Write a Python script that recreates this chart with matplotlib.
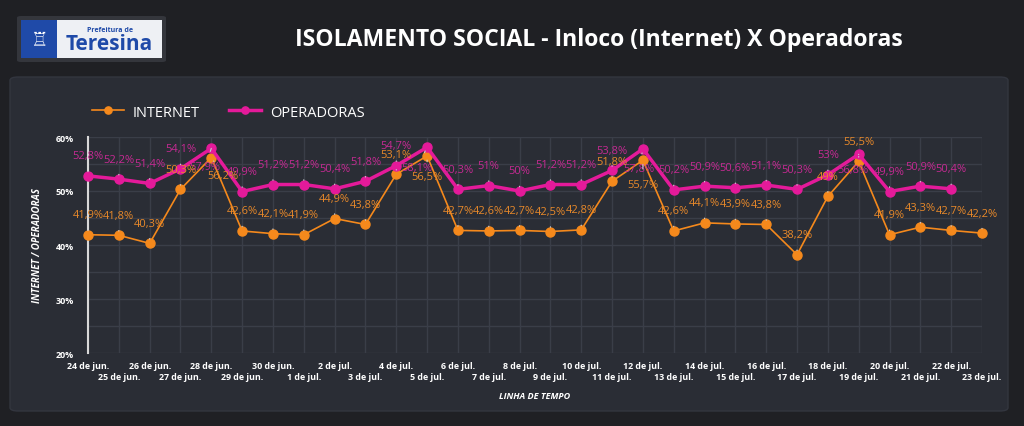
import matplotlib.pyplot as plt
from matplotlib.patches import FancyBboxPatch, Rectangle
import numpy as np

plt.rcParams['font.family'] = ['Open Sans', 'DejaVu Sans']

# data
dias = ['24 de jun.', '25 de jun.', '26 de jun.', '27 de jun.', '28 de jun.', '29 de jun.',
        '30 de jun.', '1 de jul.', '2 de jul.', '3 de jul.', '4 de jul.', '5 de jul.',
        '6 de jul.', '7 de jul.', '8 de jul.', '9 de jul.', '10 de jul.', '11 de jul.',
        '12 de jul.', '13 de jul.', '14 de jul.', '15 de jul.', '16 de jul.', '17 de jul.',
        '18 de jul.', '19 de jul.', '20 de jul.', '21 de jul.', '22 de jul.', '23 de jul.']
internet = [41.9, 41.8, 40.3, 50.3, 56.2, 42.6, 42.1, 41.9, 44.9, 43.8, 53.1, 56.5,
            42.7, 42.6, 42.7, 42.5, 42.8, 51.8, 55.7, 42.6, 44.1, 43.9, 43.8, 38.2,
            49.0, 55.5, 41.9, 43.3, 42.7, 42.2]
operadoras = [52.8, 52.2, 51.4, 54.1, 57.9, 49.9, 51.2, 51.2, 50.4, 51.8, 54.7, 58.1,
              50.3, 51.0, 50.0, 51.2, 51.2, 53.8, 57.8, 50.2, 50.9, 50.6, 51.1, 50.3,
              53.0, 56.8, 49.9, 50.9, 50.4]

# label offsets in pixels (default above the point)
off_int = {4: (12, -18), 11: (0, -21), 18: (0, -24)}
off_op = {4: (-6, -18), 11: (-10, -20), 18: (-4, -20), 25: (-6, -15)}

BG = '#1f2024'
PANEL = '#2a2d35'
GRID = '#3a3e48'
ORANGE = '#f5891c'
PINK = '#e41a9a'
ORANGE_TXT = '#e8892a'
PINK_TXT = '#c62a93'


def fmt(v):
    s = ('%.1f' % v).replace('.', ',')
    if s.endswith(',0'):
        s = s[:-2]
    return s + '%'


fig = plt.figure(figsize=(10.24, 4.27), dpi=100, facecolor=BG)

# panel behind chart
fig.patches.append(FancyBboxPatch((10 / 1024, 1 - 412 / 427), 998 / 1024, 334 / 427,
                                  boxstyle='round,pad=0,rounding_size=0.008',
                                  transform=fig.transFigure, facecolor=PANEL,
                                  edgecolor='#33363f', lw=1, zorder=0))

# logo
fig.patches.append(FancyBboxPatch((17 / 1024, 1 - 63 / 427), 149 / 1024, 46 / 427,
                                  boxstyle='round,pad=0,rounding_size=0.004',
                                  transform=fig.transFigure, facecolor='#34363c',
                                  edgecolor='none', zorder=1))
fig.patches.append(Rectangle((21 / 1024, 1 - 59 / 427), 141 / 1024, 38 / 427,
                             transform=fig.transFigure, facecolor='#eef0f4',
                             edgecolor='none', zorder=2))
fig.patches.append(Rectangle((21 / 1024, 1 - 59 / 427), 36 / 1024, 38 / 427,
                             transform=fig.transFigure, facecolor='#1f4aa8',
                             edgecolor='none', zorder=3))
fig.text(39 / 1024, 1 - 40 / 427, '\u2656', color='white', fontsize=14, ha='center',
         va='center', family=['DejaVu Sans'], zorder=4)
fig.text(110 / 1024, 1 - 31 / 427, 'Prefeitura de', color='#1f4aa8', fontsize=5,
         fontweight='bold', ha='center', va='center', zorder=4)
fig.text(109 / 1024, 1 - 44 / 427, 'Teresina', color='#1f4aa8', fontsize=15,
         fontweight='bold', ha='center', va='center', zorder=4)

fig.text(599 / 1024, 1 - 40 / 427, 'ISOLAMENTO SOCIAL - Inloco (Internet) X Operadoras',
         color='white', fontsize=16.6, fontweight='bold', ha='center', va='center')

ax = fig.add_axes([88 / 1024, 1 - 354 / 427, 894 / 1024, 216 / 427])
ax.set_facecolor(PANEL)
ax.set_zorder(2)

x = np.arange(len(dias))
xo = np.arange(len(operadoras))

ax.plot(x, internet, color=ORANGE, lw=1.2, marker='o', ms=6.5, mec=ORANGE,
        label='INTERNET', zorder=3, clip_on=False)
ax.plot(xo, operadoras, color=PINK, lw=2.5, marker='o', ms=6.5, mec=PINK,
        label='OPERADORAS', zorder=4, clip_on=False)

for i, v in enumerate(operadoras):
    dx, dy = off_op.get(i, (0, 20))
    ax.annotate(fmt(v), (i, v), xytext=(dx, dy), textcoords='offset pixels',
                ha='center', va='center', color=PINK_TXT, fontsize=8, zorder=5,
                annotation_clip=False,
                arrowprops=dict(arrowstyle='-', color='#c9cbd0', lw=0.8,
                                shrinkA=5, shrinkB=3))
for i, v in enumerate(internet):
    dx, dy = off_int.get(i, (0, 20))
    ax.annotate(fmt(v), (i, v), xytext=(dx, dy), textcoords='offset pixels',
                ha='center', va='center', color=ORANGE_TXT, fontsize=8, zorder=6,
                annotation_clip=False,
                arrowprops=dict(arrowstyle='-', color='#c9cbd0', lw=0.8,
                                shrinkA=5, shrinkB=3))

ax.set_xlim(0, len(dias) - 1)
ax.set_ylim(20, 60)
ax.set_yticks([20, 30, 40, 50, 60])
ax.set_yticklabels(['20%', '30%', '40%', '50%', '60%'])
# two rows of date labels: even days on major ticks, odd days on minor ticks
ax.set_xticks(x[::2])
ax.set_xticklabels(dias[::2])
ax.set_xticks(x[1::2], minor=True)
ax.set_xticklabels(dias[1::2], minor=True)
ax.tick_params(axis='both', which='both', length=0, colors='white', labelsize=6.4)
ax.tick_params(axis='x', which='major', pad=6)
ax.tick_params(axis='x', which='minor', pad=14)
ax.tick_params(axis='y', pad=10)
for t in (ax.get_xticklabels() + ax.get_xticklabels(minor=True)
          + ax.get_yticklabels()):
    t.set_fontweight('bold')
ax.grid(True, axis='x', which='both', color=GRID, lw=1)
ax.grid(True, axis='y', which='major', color=GRID, lw=1)
for yv in [25, 35, 45, 55]:
    ax.axhline(yv, color=GRID, lw=1, zorder=0)
ax.set_axisbelow(True)
for s in ['top', 'right', 'bottom']:
    ax.spines[s].set_visible(False)
ax.spines['left'].set_color('#d8d8d8')
ax.spines['left'].set_linewidth(1.5)

ax.set_ylabel('INTERNET / OPERADORAS', color='white', fontsize=7, fontweight='bold',
              style='italic', labelpad=9)
ax.set_xlabel('LINHA DE TEMPO', color='white', fontsize=6.5, fontweight='bold',
              style='italic', labelpad=7)

leg = ax.legend(loc='lower left', bbox_to_anchor=(-0.01, 1.02), ncol=2, frameon=False,
                fontsize=10.5, labelcolor='white', handlelength=2.2, columnspacing=2.0,
                handletextpad=0.6, markerscale=0.8)

fig.savefig('out.png', dpi=100, facecolor=BG)
